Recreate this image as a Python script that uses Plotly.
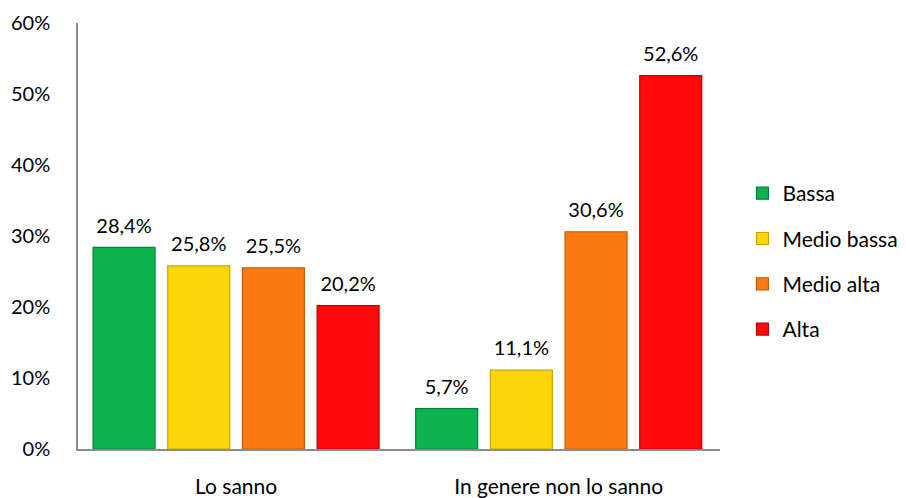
import plotly.graph_objects as go

categories = ["Lo sanno", "In genere non lo sanno"]
series_names = ["Bassa", "Medio bassa", "Medio alta", "Alta"]
bassa = [28.4, 5.7]
medio_bassa = [25.8, 11.1]
medio_alta = [25.5, 30.6]
alta = [20.2, 52.6]
y_ticks = [0, 10, 20, 30, 40, 50, 60]
y_tick_labels = ["0%", "10%", "20%", "30%", "40%", "50%", "60%"]

colors = ["#0BB44E", "#FFD60A", "#FA7A12", "#FF0A0A"]
edges = ["#07803A", "#C9A600", "#C45C08", "#C00000"]
FONT = "Lato"

fig = go.Figure()
all_vals = [bassa, medio_bassa, medio_alta, alta]
for i, (name, vals) in enumerate(zip(series_names, all_vals)):
    fig.add_trace(go.Bar(
        x=categories, y=vals, name=name,
        marker=dict(color=colors[i], line=dict(color=edges[i], width=1.2)),
        offsetgroup=str(i), legendgroup=name,
    ))
for i, (name, vals) in enumerate(zip(series_names, all_vals)):
    fig.add_trace(go.Scatter(
        x=categories, y=vals, mode="markers+text",
        marker=dict(size=14, opacity=0),
        text=[f"{v:.1f}%".replace(".", ",") for v in vals],
        textposition="top center", cliponaxis=False,
        textfont=dict(size=20, color="#000000", family=FONT),
        offsetgroup=str(i), showlegend=False, hoverinfo="skip",
    ))

fig.update_layout(
    width=920, height=498,
    margin=dict(l=70, r=208, t=15, b=57),
    paper_bgcolor="white", plot_bgcolor="white",
    font=dict(family=FONT, size=20, color="#000000"),
    barmode="group", bargap=0.074, bargroupgap=0.17,
    scattermode="group", scattergap=0.074,
    showlegend=True,
    legend=dict(x=1.035, xanchor="left", y=0.44, yanchor="middle",
                font=dict(size=21), tracegroupgap=15, itemwidth=30),
    xaxis=dict(showline=True, linecolor="#8C8C8C", linewidth=1.5,
               range=[-0.49, 1.5], automargin=False,
               showgrid=False, ticks="", ticklabelstandoff=18,
               tickfont=dict(size=21)),
    yaxis=dict(range=[0, 60], tickvals=y_ticks, ticktext=y_tick_labels,
               showline=True, linecolor="#8C8C8C", linewidth=1.5, automargin=False,
               showgrid=False, zeroline=False, ticks="", ticklabelstandoff=22,
               tickfont=dict(size=20)),
)

fig.write_html("out.html")
